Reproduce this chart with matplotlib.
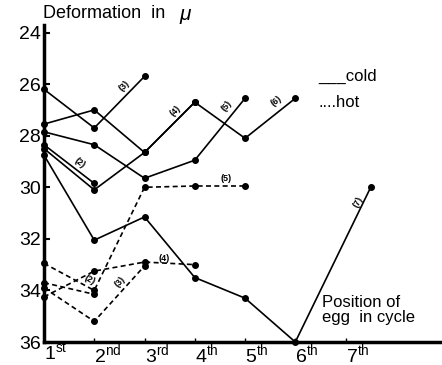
import matplotlib
matplotlib.use("Agg")
import matplotlib.pyplot as plt
import matplotlib.transforms as mtransforms

plt.rcParams["font.family"] = ["Liberation Sans", "DejaVu Sans"]
plt.rcParams["mathtext.fontset"] = "custom"
plt.rcParams["mathtext.rm"] = "Liberation Sans"
plt.rcParams["mathtext.it"] = "Liberation Sans:italic"

# position of egg in cycle
pos = [1, 2, 3, 4, 5, 6, 7]
pos_7 = [1, 2, 3, 4, 5, 6, 7.5]
tick_labels = ["1^{st}", "2^{nd}", "3^{rd}", "4^{th}", "5^{th}", "6^{th}", "7^{th}"]

# cold eggs (solid lines), deformation in microns
cold_2 = [28.35, 29.85]
cold_3 = [26.2, 27.7, 25.7]
cold_4 = [27.55, 27.0, 28.65, 26.7]
cold_5 = [27.85, 28.35, 29.65, 28.95, 26.55]
cold_6 = [28.5, 30.1, 28.65, 26.7, 28.1, 26.55]
cold_7 = [28.75, 32.05, 31.15, 33.5, 34.3, 36.0, 30.0]

# hot eggs (dashed lines)
hot_2 = [33.7, 34.15]
hot_3 = [33.9, 35.2, 33.05]
hot_4 = [34.25, 33.25, 32.9, 33.0]
hot_5 = [32.95, 34.0, 30.0, 29.95, 29.95]

fig = plt.figure(figsize=(4.42, 3.65), dpi=100)
ax = fig.add_axes([0.0995, 0.063, 0.895, 0.869])

kw = dict(color="black", marker="o", markersize=4, lw=1.2, clip_on=False)
for vals in [cold_2, cold_3, cold_4, cold_5, cold_6]:
    ax.plot(pos[:len(vals)], vals, "-", **kw)
ax.plot(pos_7, cold_7, "-", **kw)
for vals in [hot_2, hot_3, hot_4, hot_5]:
    ax.plot(pos[:len(vals)], vals, linestyle=(0, (3, 2)), **kw)

# series numbers written along the lines
notes = [
    ("(2)", 1.72, 29.05, -38),
    ("(3)", 2.6, 26.05, 46),
    ("(4)", 3.62, 27.05, 45),
    ("(5)", 4.63, 26.85, 51),
    ("(6)", 5.63, 26.65, 38),
    ("(7)", 7.24, 30.55, 63),
    ("(2)", 1.9, 33.6, -30),
    ("(3)", 2.52, 33.65, 48),
    ("(4)", 3.4, 32.75, 0),
    ("(5)", 4.62, 29.65, 0),
]
for txt, x, y, rot in notes:
    ax.text(x, y, txt, fontsize=6.5, fontweight="bold", rotation=rot,
            ha="center", va="center")

ax.set_xlim(1, 8.87)
ax.set_ylim(36, 23.7)
ax.set_yticks([24, 26, 28, 30, 32, 34, 36])
ax.set_xticks(pos)
ax.set_xticklabels(["$\\mathregular{" + t + "}$" for t in tick_labels], fontsize=14)
shift = mtransforms.ScaledTranslation(-4 / 100, -3 / 100, fig.dpi_scale_trans)
for lab in ax.get_xticklabels():
    lab.set_horizontalalignment("left")
    lab.set_transform(lab.get_transform() + shift)
ax.tick_params(axis="y", direction="in", length=4, width=1.5, labelsize=14, pad=2)
ax.tick_params(axis="x", direction="in", length=3, width=1, pad=0)

for s in ["top", "right"]:
    ax.spines[s].set_visible(False)
ax.spines["left"].set_linewidth(2.5)
ax.spines["bottom"].set_linewidth(2.5)

fig.text(0.097, 0.962, "Deformation  in", fontsize=13, va="center")
fig.text(0.405, 0.955, "$\\mathit{\\mu}$", fontsize=15, va="center")
fig.text(0.72, 0.79, "___cold", fontsize=12, va="center")
fig.text(0.72, 0.72, "....hot", fontsize=12, va="center")
fig.text(0.728, 0.15, "Position of\negg  in cycle", fontsize=12,
         va="center", linespacing=1.0)

fig.savefig("out.png", dpi=100)
